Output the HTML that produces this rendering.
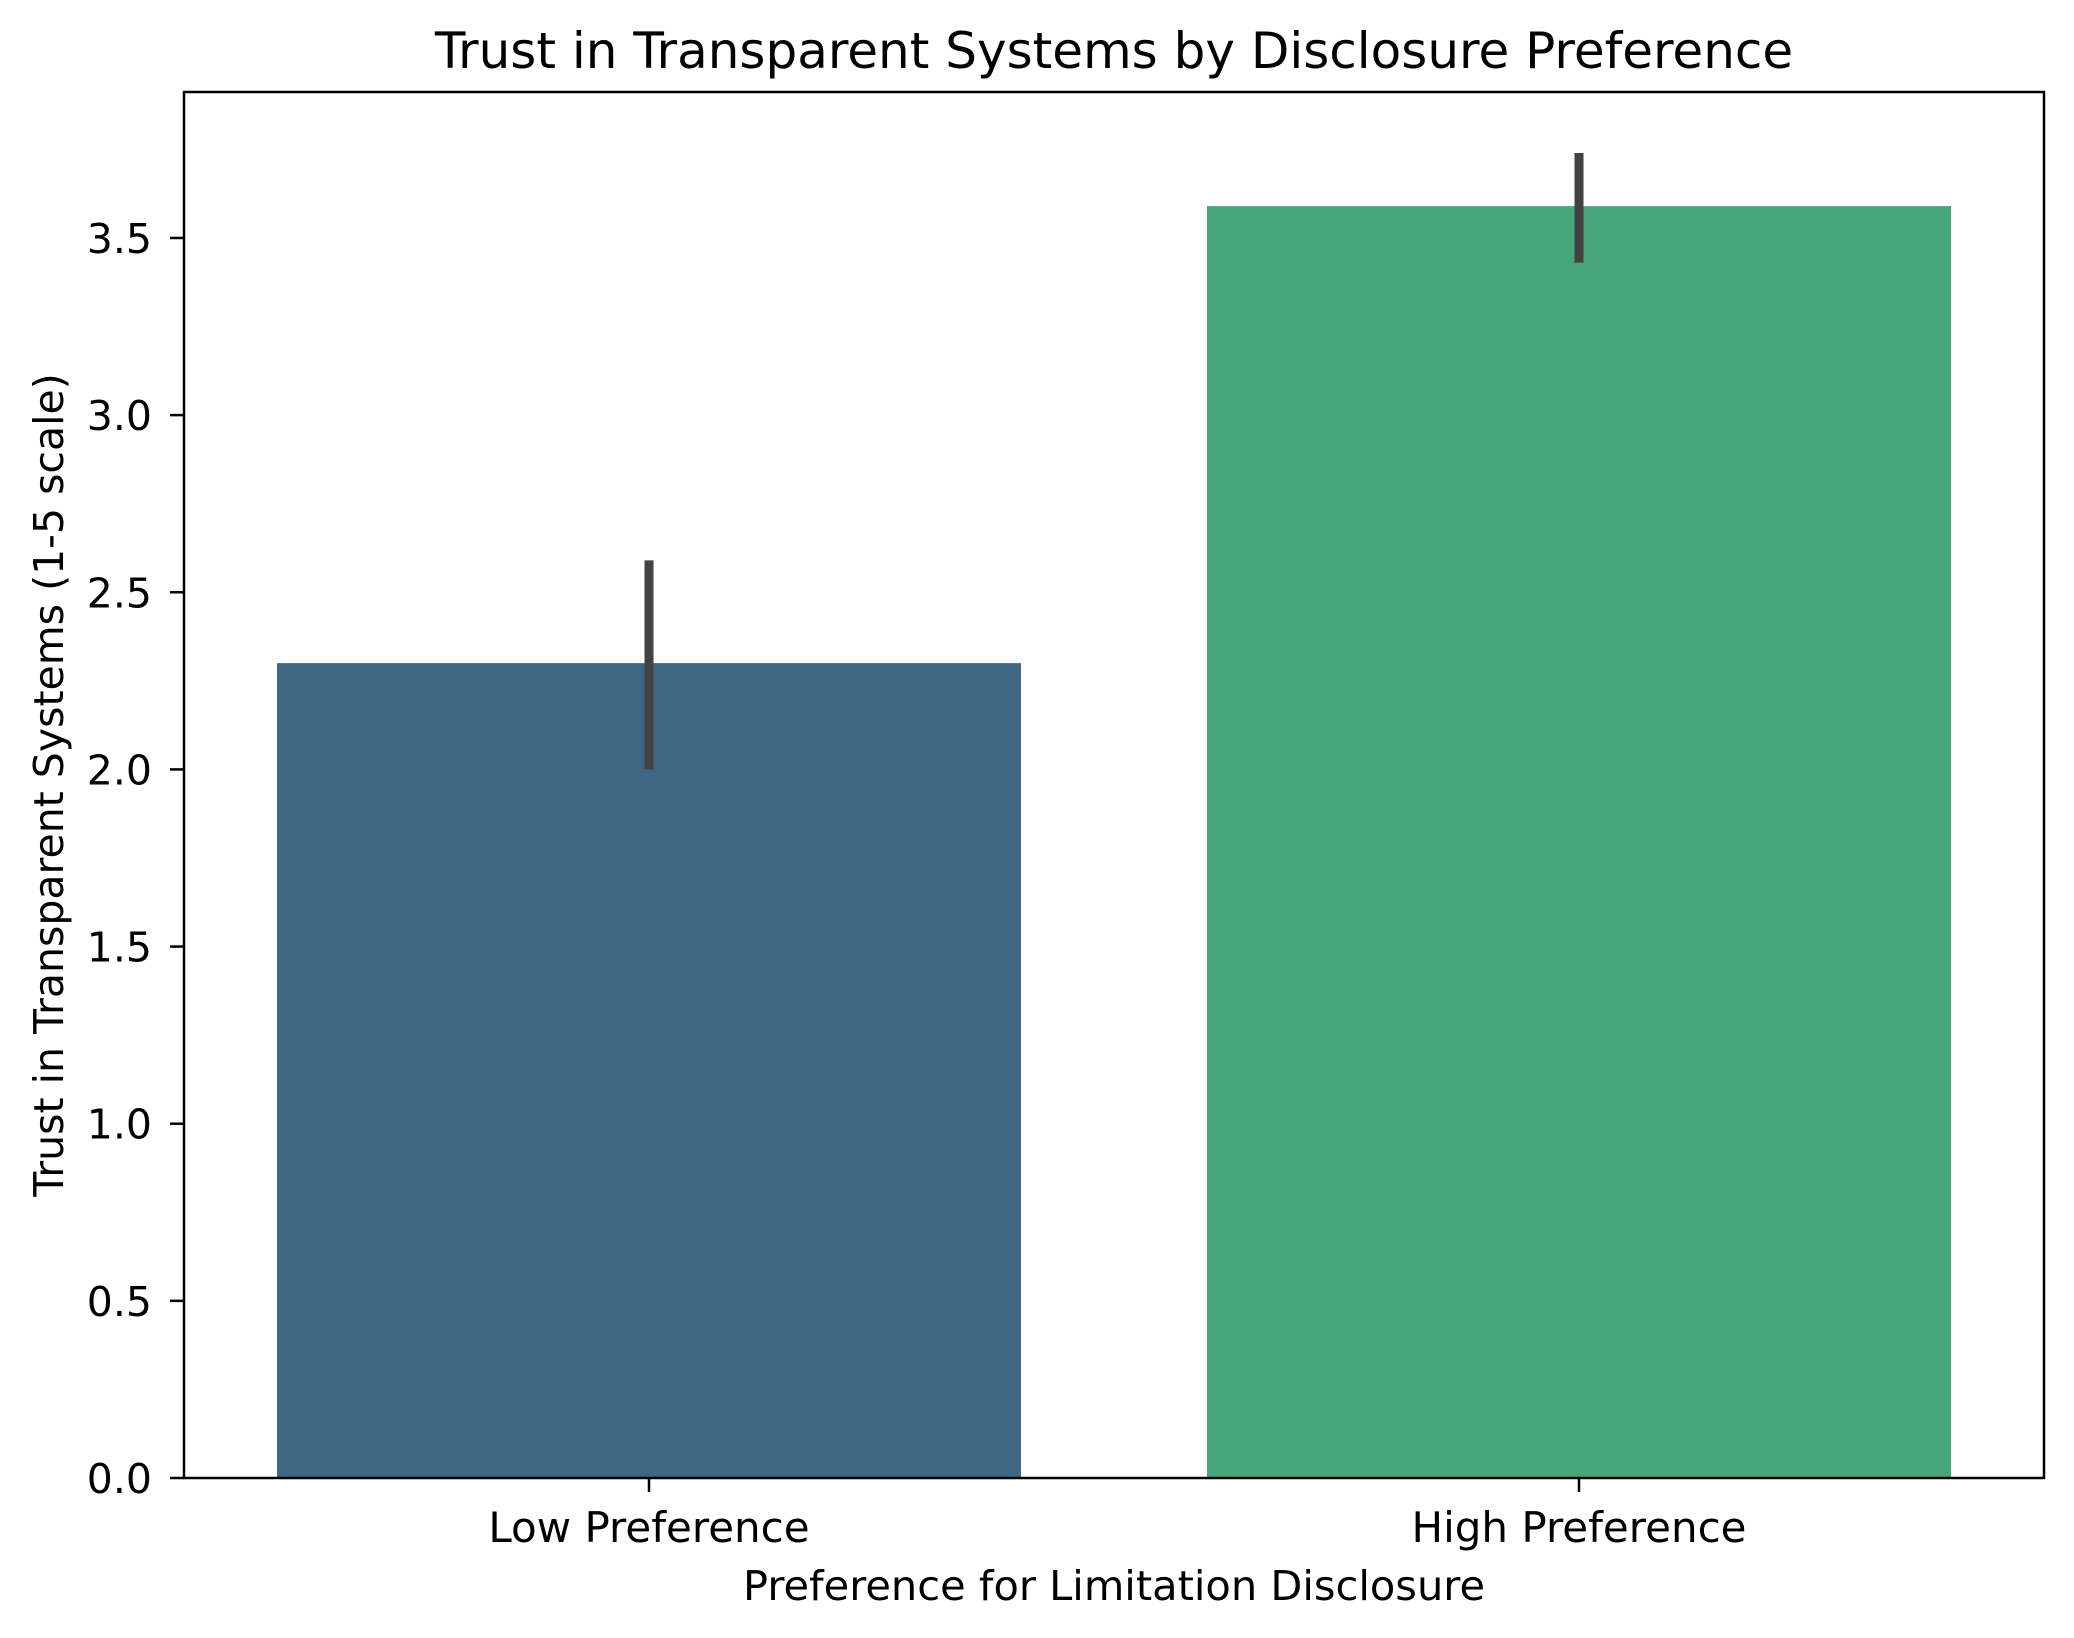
<!DOCTYPE html>
<html><head><meta charset="utf-8"><style>
html,body{margin:0;padding:0;background:#fff}
svg{display:block}
text{font-family:"DejaVu Sans","Liberation Sans",sans-serif;fill:#000}
</style></head><body>
<svg id="chart" width="2074" height="1638" viewBox="0 0 2074 1638" xmlns="http://www.w3.org/2000/svg">
<text x="1114" y="68" font-size="50" text-anchor="middle">Trust in Transparent Systems by Disclosure Preference</text>
<g id="plot"></g>
<text x="1114" y="1600" font-size="41" text-anchor="middle" textLength="742" lengthAdjust="spacingAndGlyphs">Preference for Limitation Disclosure</text>
<text transform="translate(63,785) rotate(-90)" font-size="41" text-anchor="middle">Trust in Transparent Systems (1-5 scale)</text>
</svg>
<script>
const categories = ["Low Preference", "High Preference"];
const means = [2.30, 3.59];
const ciLow = [2.00, 3.43];
const ciHigh = [2.59, 3.74];
const colors = ["#3f6783", "#47a778"];
const yTicks = [0, 0.5, 1, 1.5, 2, 2.5, 3, 3.5];
const yTickLabels = ["0.0","0.5","1.0","1.5","2.0","2.5","3.0","3.5"];

const L=184, R=2044, T=92, B=1478, YMAX=3.912;
const ns="http://www.w3.org/2000/svg";
const g=document.getElementById('plot');
function y(v){return B-(v/YMAX)*(B-T);}
const step=(R-L)/categories.length;
function x(i){return L+step*(i+0.5);}
function mk(tag,attrs){const e=document.createElementNS(ns,tag);for(const k in attrs)e.setAttribute(k,attrs[k]);g.appendChild(e);return e;}

categories.forEach((c,i)=>{
  const w=step*0.8;
  const b=mk('rect',{x:x(i)-w/2,y:y(means[i]),width:w,height:B-y(means[i]),fill:colors[i]});
  
  
  const e=mk('line',{x1:x(i),x2:x(i),y1:y(ciLow[i]),y2:y(ciHigh[i]),stroke:'#424242','stroke-width':9});
  
  
  const t=mk('line',{x1:x(i),x2:x(i),y1:B,y2:B+14,stroke:'#000','stroke-width':2.5});
  
  
  const lb=mk('text',{x:x(i),y:1542,'font-size':42,'text-anchor':'middle'});
  lb.textContent=c;
  
  
});
yTicks.forEach((v,i)=>{
  const t=mk('line',{x1:L-14,x2:L,y1:y(v),y2:y(v),stroke:'#000','stroke-width':2.5});
  
  
  const lb=mk('text',{x:152,y:y(v)+15,'font-size':41,'text-anchor':'end'});
  lb.textContent=yTickLabels[i];
  
  
});
const fr=mk('rect',{x:L,y:T,width:R-L,height:B-T,fill:'none',stroke:'#000','stroke-width':2.5});


</script>
</body></html>
